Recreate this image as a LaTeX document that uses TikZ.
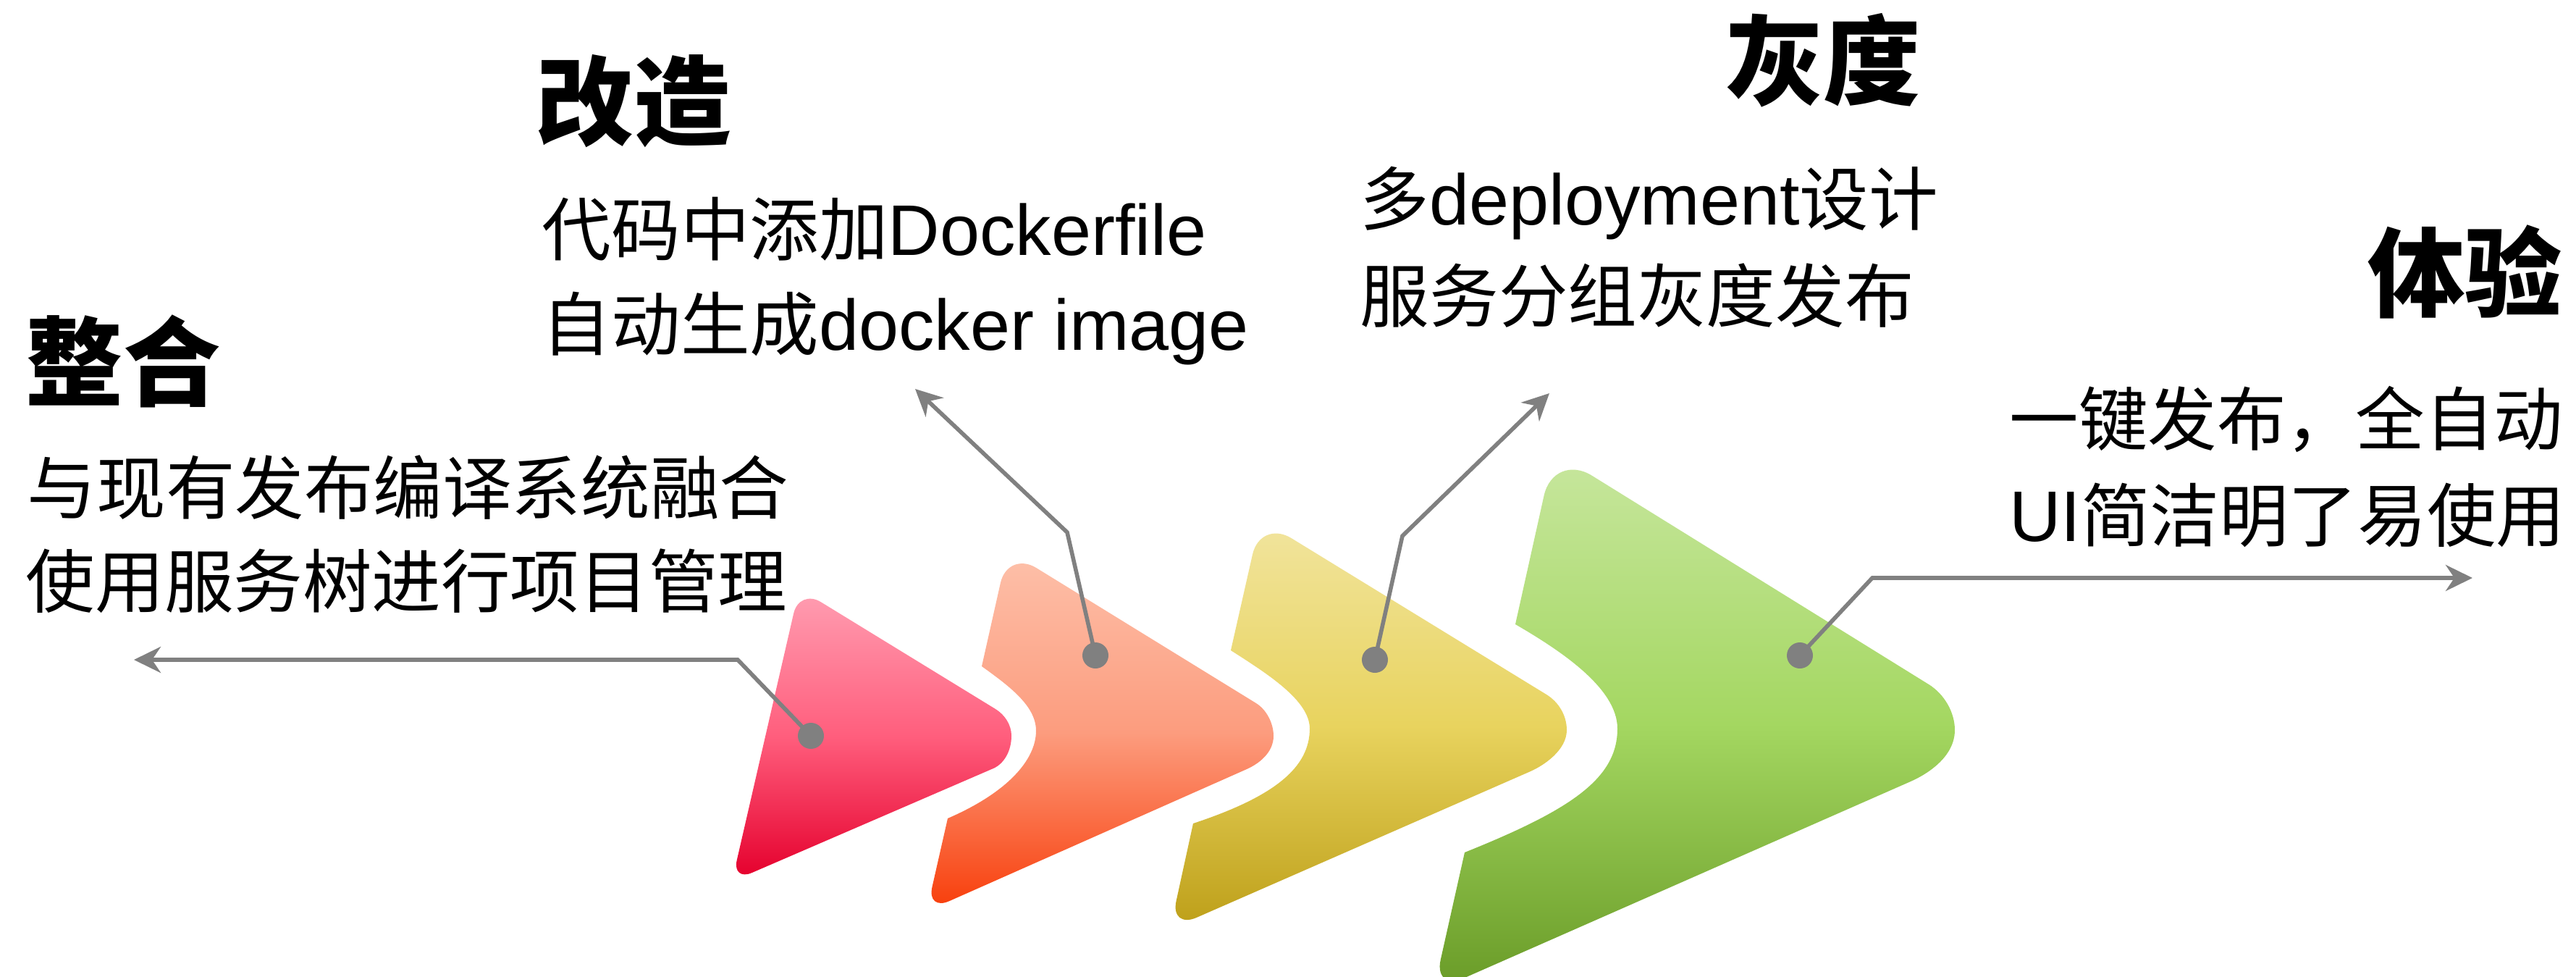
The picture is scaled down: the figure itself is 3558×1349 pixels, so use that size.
\documentclass[tikz,border=0pt]{standalone}
\usepackage{fontspec}
\setmainfont{Noto Sans CJK SC}
\newfontfamily\lat[Scale=1.035]{Liberation Sans}
\usetikzlibrary{calc,arrows.meta}
\definecolor{linegray}{HTML}{808080}
\definecolor{pkA}{HTML}{FF9CB0}\definecolor{pkB}{HTML}{FF5E7D}\definecolor{pkC}{HTML}{E5002D}
\definecolor{orA}{HTML}{FDBFA8}\definecolor{orB}{HTML}{FC9C7E}\definecolor{orC}{HTML}{F83F0C}
\definecolor{yeA}{HTML}{F1E49C}\definecolor{yeB}{HTML}{E8D35E}\definecolor{yeC}{HTML}{BEA01A}
\definecolor{grA}{HTML}{C6E69C}\definecolor{grB}{HTML}{A4D761}\definecolor{grC}{HTML}{6A9C28}
\begin{document}
\begin{tikzpicture}[x=0.25pt,y=-0.25pt,
  rc/.style n args={5}{insert path={-- ($(#2)!#4!(#1)$) .. controls ($(#2)!#5!(#1)$) and ($(#2)!#5!(#3)$) .. ($(#2)!#4!(#3)$)}},
  conn/.style={draw=linegray, line width=1.4pt, -{Stealth[length=9.25pt,width=9pt,inset=3pt]}},
  pdot/.style={circle, fill=linegray, inner sep=0pt, minimum size=9pt},
  subtxt/.style={inner sep=0pt, font=\fontsize{23.9pt}{28pt}\selectfont},
  ttltxt/.style={inner sep=0pt, font=\fontsize{33.6pt}{38pt}\selectfont\bfseries},
  pinkfill/.style={top color=pkA, bottom color=pkC, middle color=pkB},
  orangefill/.style={top color=orA, bottom color=orC, middle color=orB},
  yellowfill/.style={top color=yeA, bottom color=yeC, middle color=yeB},
  greenfill/.style={top color=grA, bottom color=grC, middle color=grB},
]
\useasboundingbox (0,0) rectangle (3558,1349);
\fill[white] (0,0) rectangle (3558,1349);

% pink
\coordinate (aT) at (1104,813); \coordinate (aR) at (1452,1026); \coordinate (aB) at (1011,1217);
\shade[pinkfill] ($(aT)!8.75pt!(aR)$) -- (1375,979) .. controls (1388,987) and (1397,1001) .. (1397,1016)
  .. controls (1397,1037) and (1386.6,1054.6) .. (1372,1061)
  [rc={aR}{aB}{aT}{7.5pt}{3.4pt}] [rc={aB}{aT}{aR}{8.75pt}{3.9pt}] -- cycle;

% orange
\coordinate (bT) at (1392,760); \coordinate (bR) at (1816,1020); \coordinate (bB) at (1280,1258);
\coordinate (bS) at (1356,920); \coordinate (bM) at (1431,1009); \coordinate (bE) at (1309,1130);
\shade[orangefill] ($(bT)!11.5pt!(bR)$) -- (1735,971) .. controls (1749.5,980) and (1759,999) .. (1759,1016)
  .. controls (1759,1040) and (1737.6,1055) .. (1722,1062)
  [rc={bR}{bB}{bT}{8.5pt}{3.8pt}] -- (bE) .. controls (1390,1095) and (1431,1050) .. (bM)
  .. controls (1431,975) and (1395,948) .. (bS) [rc={bS}{bT}{bR}{11.5pt}{5.2pt}] -- cycle;

% yellow
\coordinate (cT) at (1741,717); \coordinate (cR) at (2228,1015); \coordinate (cB) at (1616,1283);
\coordinate (cS) at (1700,898); \coordinate (cM) at (1809,1006); \coordinate (cE) at (1648,1137);
\shade[yellowfill] ($(cT)!12.5pt!(cR)$) -- (2136,959) .. controls (2153,969.5) and (2164,988) .. (2164,1008)
  .. controls (2164,1036) and (2132,1057) .. (2114,1065)
  [rc={cR}{cB}{cT}{10pt}{4.5pt}] -- (cE) .. controls (1760,1100) and (1809,1060) .. (cM)
  .. controls (1809,967) and (1750,930) .. (cS) [rc={cS}{cT}{cR}{12.5pt}{5.6pt}] -- cycle;

% green
\coordinate (dT) at (2146,624); \coordinate (dR) at (2780,1017); \coordinate (dB) at (1980,1369);
\coordinate (dS) at (2093,862); \coordinate (dM) at (2234,1006); \coordinate (dE) at (2023,1177);
\shade[greenfill] ($(dT)!15.5pt!(dR)$) -- (2664,945) .. controls (2685,958) and (2700,983) .. (2700,1008)
  .. controls (2700,1043) and (2666,1067) .. (2639,1079)
  [rc={dR}{dB}{dT}{11.25pt}{5.1pt}] -- (dE) .. controls (2170,1118) and (2234,1075) .. (dM)
  .. controls (2234,950) and (2155,898) .. (dS) [rc={dS}{dT}{dR}{15.5pt}{7pt}] -- cycle;

% connectors
\node[pdot] (pa) at (1120,1016) {};
\node[pdot] (pb) at (1513,905) {};
\node[pdot] (pc) at (1899,911) {};
\node[pdot] (pd) at (2486,905) {};
\coordinate (ka) at (1019,911); \coordinate (ta) at (185,911);
\coordinate (kb) at (1474,735); \coordinate (tb) at (1264,537);
\coordinate (kc) at (1937,740); \coordinate (tc) at (2140,543);
\coordinate (kd) at (2586,798); \coordinate (td) at (3415,798);
\draw[conn] (pa.center) -- (ka) -- (ta);
\draw[conn] (pb.center) -- (kb) -- (tb);
\draw[conn] (pc.center) -- (kc) -- (tc);
\draw[conn] (pd.center) -- (kd) -- (td);

% texts
\node[ttltxt, anchor=base west] (t1) at (35,550) {整合};
\node[subtxt, anchor=base west] (s1a) at (37,709) {与现有发布编译系统融合};
\node[subtxt, anchor=base west] (s1b) at (35,838) {使用服务树进行项目管理};
\node[ttltxt, anchor=base west] (t2) at (740,190) {改造};
\node[subtxt, anchor=base west] (s2a) at (748,352) {代码中添加{\lat Dockerfile}};
\node[subtxt, anchor=base west] (s2b) at (748,483) {自动生成{\lat docker image}};
\node[ttltxt, anchor=base west] (t3) at (2383,135) {灰度};
\node[subtxt, anchor=base west] (s3a) at (1878,310) {多{\lat deployment}设计};
\node[subtxt, anchor=base west] (s3b) at (1878,444) {服务分组灰度发布};
\node[ttltxt, anchor=base east] (t4) at (3540,427) {体验};
\node[subtxt, anchor=base east] (s4a) at (3541,614) {一键发布，全自动};
\node[subtxt, anchor=base east] (s4b) at (3544,747) {{\lat UI}简洁明了易使用};
\end{tikzpicture}
\end{document}
